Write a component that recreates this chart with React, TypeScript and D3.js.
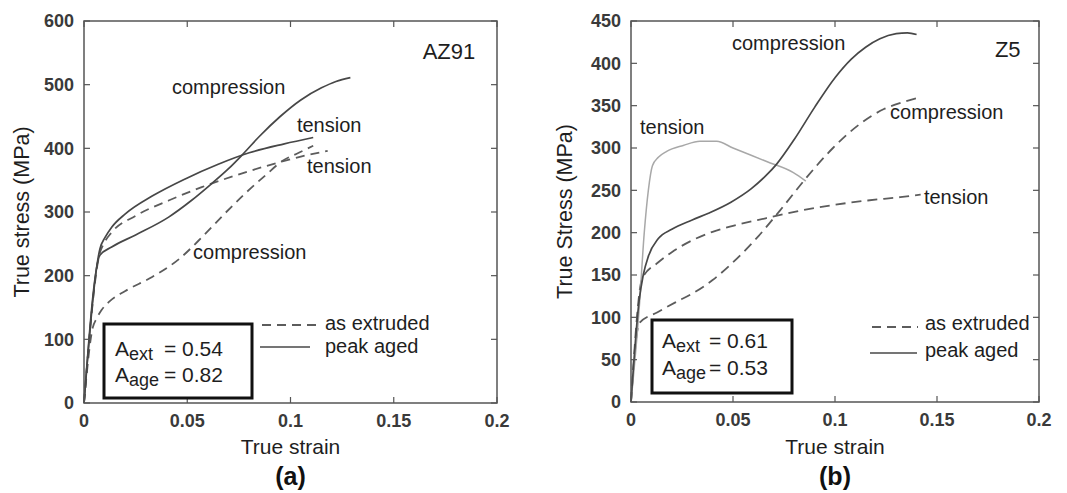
import React from 'react';
import * as d3 from 'd3';

type Pt = [number, number];

// ---------- Panel (a) AZ91 ----------
const azStrainTicks = [0, 0.05, 0.1, 0.15, 0.2];
const azStressTicks = [0, 100, 200, 300, 400, 500, 600];
const azAgedCompression: Pt[] = [
  [0, 0], [0.0077, 232], [0.0134, 245], [0.025, 264], [0.041, 292], [0.052, 318],
  [0.062, 345], [0.07, 368], [0.077, 391], [0.085, 419], [0.095, 450], [0.105, 476],
  [0.115, 495], [0.122, 505], [0.129, 511],
];
const azAgedTension: Pt[] = [
  [0, 0], [0.0077, 242], [0.0102, 260], [0.0134, 276], [0.02, 297], [0.033, 325],
  [0.049, 352], [0.065, 375], [0.08, 393], [0.097, 407], [0.111, 417],
];
const azExtTension: Pt[] = [
  [0, 0], [0.0077, 236], [0.0092, 248], [0.0134, 268], [0.025, 294], [0.041, 318],
  [0.057, 339], [0.073, 357], [0.089, 373], [0.105, 387], [0.118, 396],
];
const azExtCompression: Pt[] = [
  [0, 0], [0.0042, 118], [0.006, 132], [0.0085, 146], [0.0125, 160], [0.02, 176],
  [0.033, 198], [0.046, 226], [0.057, 260], [0.068, 297], [0.078, 329], [0.088, 358],
  [0.096, 380], [0.104, 393], [0.111, 404],
];
const azLabels = [
  { text: 'compression', s: 0.0426, v: 496 },
  { text: 'tension', s: 0.1031, v: 437 },
  { text: 'tension', s: 0.108, v: 372 },
  { text: 'compression', s: 0.0528, v: 237 },
  { text: 'AZ91', s: 0.164, v: 553 },
];

// ---------- Panel (b) Z5 ----------
const z5StrainTicks = [0, 0.05, 0.1, 0.15, 0.2];
const z5StressTicks = [0, 50, 100, 150, 200, 250, 300, 350, 400, 450];
const z5AgedCompression: Pt[] = [
  [0, 0], [0.004, 120], [0.006, 150], [0.0085, 172], [0.0134, 193], [0.02, 204],
  [0.03, 215], [0.038, 223], [0.049, 236], [0.059, 252], [0.066, 267], [0.0714, 281],
  [0.08, 310], [0.09, 348], [0.1, 383], [0.108, 405], [0.115, 419], [0.122, 429],
  [0.13, 435], [0.1355, 436], [0.14, 434],
];
const z5AgedTension: Pt[] = [
  [0, 0], [0.004, 110], [0.0065, 200], [0.0085, 250], [0.0105, 279], [0.0134, 289],
  [0.0175, 296], [0.0256, 303], [0.0338, 308], [0.042, 308], [0.05, 300],
  [0.0665, 284], [0.0796, 271], [0.0857, 261],
];
const z5ExtTension: Pt[] = [
  [0, 0], [0.0055, 146], [0.0134, 165], [0.02, 177], [0.03, 191], [0.04, 201],
  [0.05, 208], [0.066, 217], [0.083, 226], [0.1, 233], [0.116, 238], [0.132, 242],
  [0.142, 245],
];
const z5ExtCompression: Pt[] = [
  [0, 0], [0.004, 93], [0.013, 106], [0.022, 118], [0.03, 128], [0.04, 144],
  [0.05, 165], [0.0625, 196], [0.075, 232], [0.086, 265], [0.099, 300], [0.112, 328],
  [0.124, 346], [0.133, 354], [0.142, 360],
];
const z5Labels = [
  { text: 'compression', s: 0.0495, v: 424 },
  { text: 'Z5', s: 0.1784, v: 416 },
  { text: 'tension', s: 0.0044, v: 325 },
  { text: 'compression', s: 0.127, v: 342 },
  { text: 'tension', s: 0.1436, v: 242 },
];

const FONT = '"Liberation Sans", Arial, Helvetica, sans-serif';
const DARK = '#474747';
const DASH = '#5c5c5c';
const LIGHT = '#a8a8a8';

type Series = { pts: Pt[]; color: string; width: number; dash?: string };

type PanelProps = {
  left: number; right: number; top: number; bottom: number;
  yMax: number; xTicks: number[]; yTicks: number[];
  series: Series[];
  labels: { text: string; s: number; v: number }[];
  yTitle: string; yTitleX: number; tag: string;
  box: { x: number; y: number; w: number; h: number; tx: number; ex: number; b1: number; b2: number; v1: string; v2: string };
  legend: { x0: number; x1: number; dashX1: number; yDash: number; ySolid: number; tx: number; tyDash: number; tySolid: number };
};

const fmt = (d: number) => (d === 0 ? '0' : String(+d.toFixed(2)));

function Panel(p: PanelProps) {
  const x = d3.scaleLinear().domain([0, 0.2]).range([p.left, p.right]);
  const y = d3.scaleLinear().domain([0, p.yMax]).range([p.bottom, p.top]);
  const line = d3.line<Pt>().x(d => x(d[0])).y(d => y(d[1])).curve(d3.curveMonotoneX);
  const tl = 6;
  const cx = (p.left + p.right) / 2;
  return (
    <g fontFamily={FONT}>
      {p.series.map((s, i) => (
        <path key={i} d={line(s.pts) || ''} fill="none" stroke={s.color} strokeWidth={s.width}
          strokeDasharray={s.dash} strokeLinejoin="round" />
      ))}
      {/* frame */}
      <rect x={p.left} y={p.top} width={p.right - p.left} height={p.bottom - p.top}
        fill="none" stroke="#555" strokeWidth={1.5} />
      {p.xTicks.map(t => (
        <g key={'x' + t}>
          <line x1={x(t)} x2={x(t)} y1={p.bottom} y2={p.bottom - tl} stroke="#555" strokeWidth={1.2} />
          <line x1={x(t)} x2={x(t)} y1={p.top} y2={p.top + tl} stroke="#555" strokeWidth={1.2} />
          <text x={x(t)} y={p.bottom + 18} dy="0.35em" textAnchor="middle" fontSize={18}
            fontWeight="bold" fill="#3a3a3a">{fmt(t)}</text>
        </g>
      ))}
      {p.yTicks.map(t => (
        <g key={'y' + t}>
          <line x1={p.left} x2={p.left + tl} y1={y(t)} y2={y(t)} stroke="#555" strokeWidth={1.2} />
          <line x1={p.right} x2={p.right - tl} y1={y(t)} y2={y(t)} stroke="#555" strokeWidth={1.2} />
          <text x={p.left - 10} y={y(t)} dy="0.35em" textAnchor="end" fontSize={18}
            fontWeight="bold" fill="#3a3a3a">{t}</text>
        </g>
      ))}
      {p.labels.map((l, i) => (
        <text key={i} x={x(l.s)} y={y(l.v)} dy="0.35em" fontSize={l.text.length <= 4 ? 22 : 20} fill="#1e1e1e">{l.text}</text>
      ))}
      {/* axis titles */}
      <text x={cx} y={447} dy="0.35em" textAnchor="middle" fontSize={21} fill="#1e1e1e">True strain</text>
      <text transform={`translate(${p.yTitleX},${(p.top + p.bottom) / 2}) rotate(-90)`} dy="0.35em"
        textAnchor="middle" fontSize={21.5} fill="#1e1e1e">{p.yTitle}</text>
      <text x={cx} y={476} dy="0.35em" textAnchor="middle" fontSize={25} fontWeight="bold" fill="#111">{p.tag}</text>
      {/* box */}
      <rect x={p.box.x} y={p.box.y} width={p.box.w} height={p.box.h} fill="#fff" stroke="#111" strokeWidth={3} />
      <text x={p.box.tx} y={p.box.b1} fontSize={21} fill="#1e1e1e">A<tspan fontSize={18} dy={4}>ext</tspan></text>
      <text x={p.box.ex} y={p.box.b1} fontSize={21} fill="#1e1e1e">= {p.box.v1}</text>
      <text x={p.box.tx} y={p.box.b2} fontSize={21} fill="#1e1e1e">A<tspan fontSize={18} dy={4}>age</tspan></text>
      <text x={p.box.ex} y={p.box.b2} fontSize={21} fill="#1e1e1e">= {p.box.v2}</text>
      {/* legend */}
      <line x1={p.legend.x0 + 2} x2={p.legend.dashX1} y1={p.legend.yDash} y2={p.legend.yDash} stroke={DASH}
        strokeWidth={1.8} strokeDasharray="9,6" />
      <line x1={p.legend.x0} x2={p.legend.x1} y1={p.legend.ySolid} y2={p.legend.ySolid} stroke={DARK} strokeWidth={1.6} />
      <text x={p.legend.tx} y={p.legend.tyDash} dy="0.35em" fontSize={20} fill="#1e1e1e">as extruded</text>
      <text x={p.legend.tx} y={p.legend.tySolid} dy="0.35em" fontSize={20} fill="#1e1e1e">peak aged</text>
    </g>
  );
}

export default function App() {
  return (
    <svg width={1067} height={493} style={{ position: 'absolute', left: 0, top: 0, background: '#fff' }}>
      <rect width={1067} height={493} fill="#fff" />
      <Panel
        left={84} right={497} top={21} bottom={403} yMax={600}
        xTicks={azStrainTicks} yTicks={azStressTicks}
        series={[
          { pts: azExtCompression, color: DASH, width: 1.8, dash: '9,6' },
          { pts: azExtTension, color: DASH, width: 1.8, dash: '9,6' },
          { pts: azAgedTension, color: DARK, width: 1.7 },
          { pts: azAgedCompression, color: DARK, width: 1.7 },
        ]}
        labels={azLabels}
        yTitle="True stress (MPa)" yTitleX={21} tag="(a)"
        box={{ x: 104, y: 324, w: 148, h: 74, tx: 115, ex: 164, b1: 356, b2: 382, v1: '0.54', v2: '0.82' }}
        legend={{ x0: 260, x1: 310, dashX1: 317, yDash: 325, ySolid: 347, tx: 325, tyDash: 323, tySolid: 346 }}
      />
      <Panel
        left={631} right={1039} top={21} bottom={402} yMax={450}
        xTicks={z5StrainTicks} yTicks={z5StressTicks}
        series={[
          { pts: z5ExtCompression, color: DASH, width: 1.8, dash: '10,6' },
          { pts: z5ExtTension, color: DASH, width: 1.8, dash: '10,6' },
          { pts: z5AgedTension, color: LIGHT, width: 1.5 },
          { pts: z5AgedCompression, color: DARK, width: 1.7 },
        ]}
        labels={z5Labels}
        yTitle="True Stress (MPa)" yTitleX={564} tag="(b)"
        box={{ x: 652, y: 320, w: 140, h: 73, tx: 662, ex: 709, b1: 348, b2: 375, v1: '0.61', v2: '0.53' }}
        legend={{ x0: 870, x1: 917, dashX1: 918, yDash: 327, ySolid: 353, tx: 925, tyDash: 323, tySolid: 350 }}
      />
    </svg>
  );
}
